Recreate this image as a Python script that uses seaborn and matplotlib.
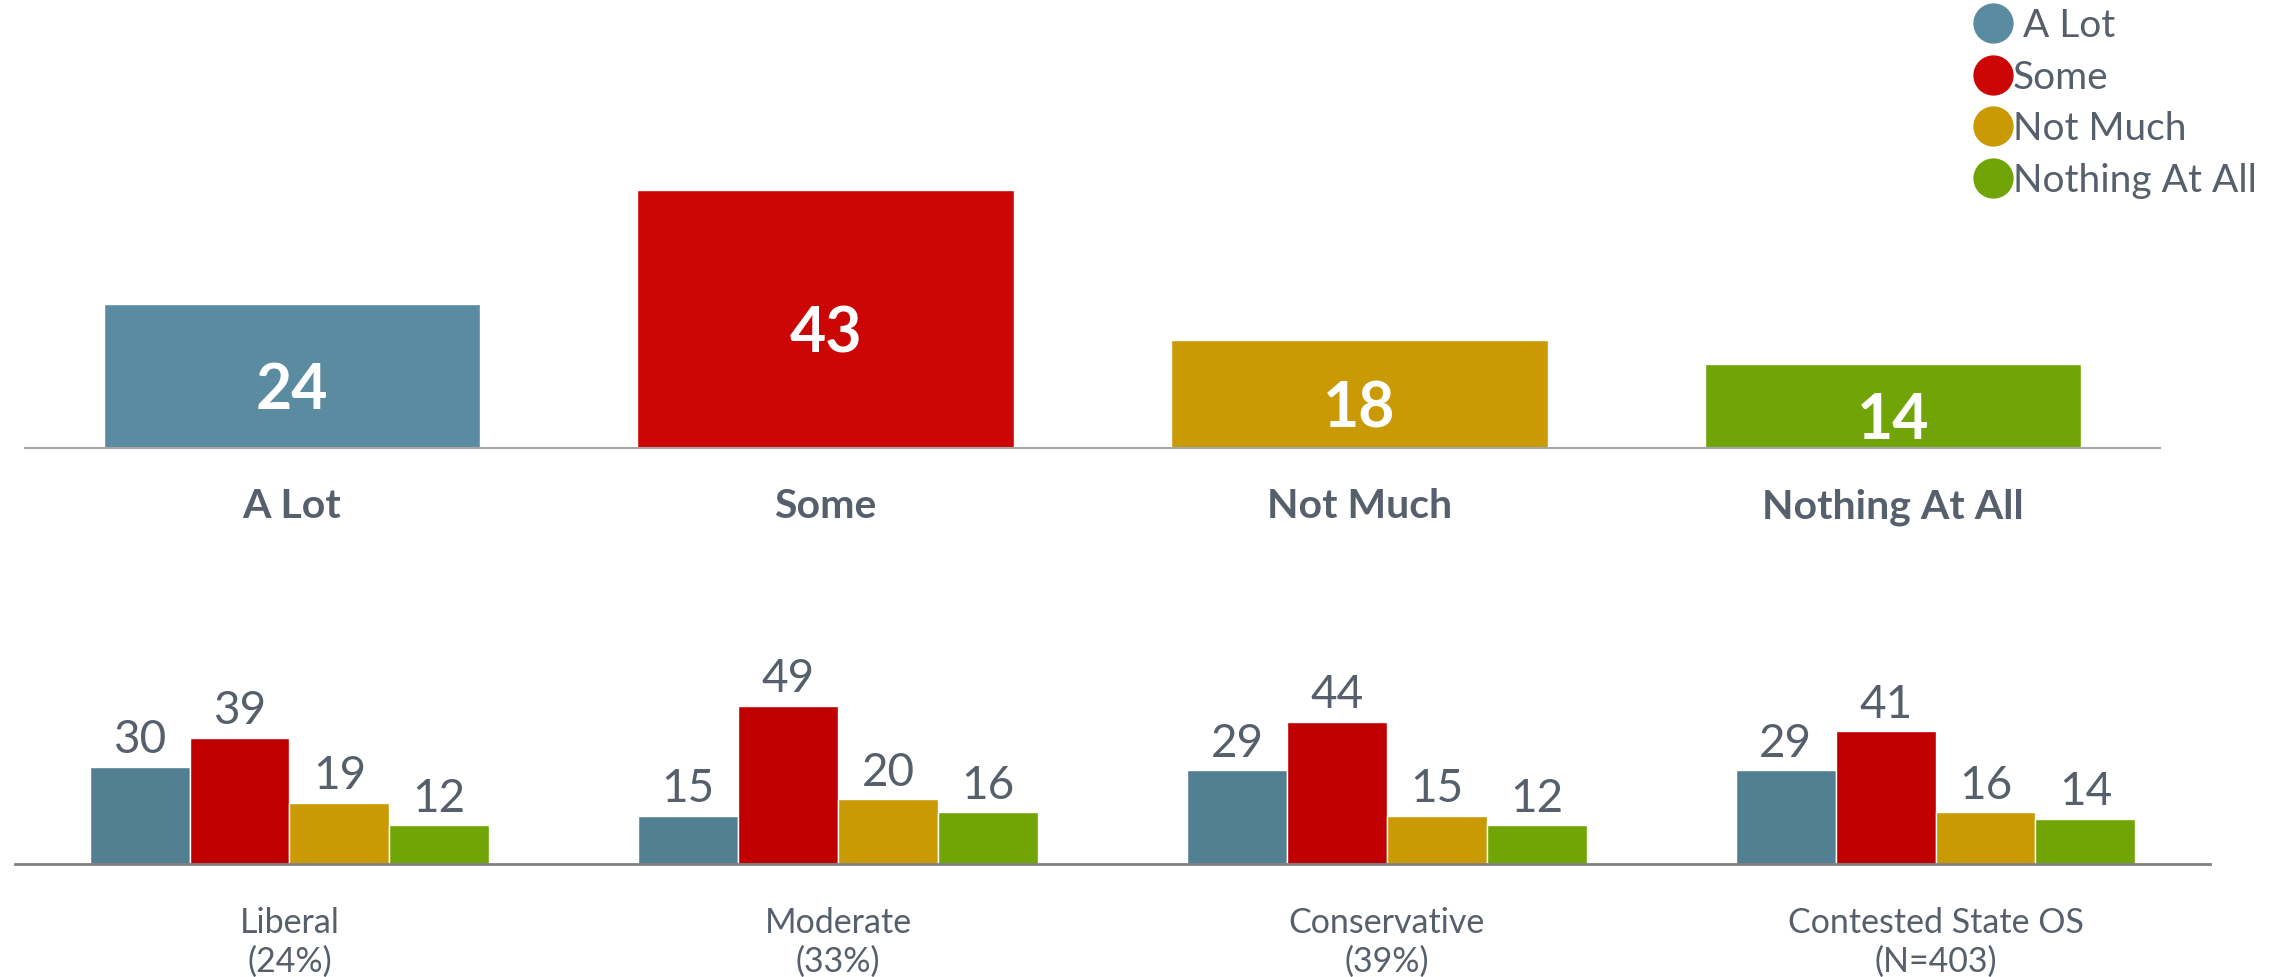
import matplotlib
matplotlib.use("Agg")
import matplotlib.pyplot as plt
from matplotlib.lines import Line2D
import seaborn as sns
import pandas as pd

# ---------------- data ----------------
responses = ["A Lot", "Some", "Not Much", "Nothing At All"]
overall = [24, 43, 18, 14]

groups = ["Liberal\n(24%)", "Moderate\n(33%)", "Conservative\n(39%)", "Contested State OS\n(N=403)"]
a_lot = [30, 15, 29, 29]
some = [39, 49, 44, 41]
not_much = [19, 20, 15, 16]
nothing = [12, 16, 12, 14]

legend_labels = [" A Lot", "Some", "Not Much", "Nothing At All"]

top_colors = ["#5B8BA0", "#CC0605", "#CA9A05", "#70A407"]
bot_colors = ["#527F92", "#C00000", "#CA9A05", "#71A506"]
text_color = "#56606C"

sns.set_theme(style="white")
plt.rcParams["font.family"] = ["Lato", "DejaVu Sans"]

W, H = 2288, 977
fig = plt.figure(figsize=(W / 100, H / 100), dpi=100)

# ---------------- top chart ----------------
ax1 = fig.add_axes([25 / W, 1 - 448 / H, 2135 / W, 300 / H])
df_top = pd.DataFrame({"response": responses, "value": overall})
sns.barplot(data=df_top, x="response", y="value", hue="response",
            palette=top_colors, width=0.705, legend=False, ax=ax1,
            saturation=1, order=responses, hue_order=responses)
ax1.set_xlim(-0.5, 3.5)
ax1.set_ylim(0, 50)
for c in ax1.containers:
    ax1.bar_label(c, label_type="center", color="white", fontsize=45,
                  fontweight="bold", padding=-11)
ax1.set_xlabel("")
ax1.set_ylabel("")
ax1.set_yticks([])
for s in ["top", "right", "left"]:
    ax1.spines[s].set_visible(False)
ax1.spines["bottom"].set_color("#A6A6A6")
ax1.spines["bottom"].set_linewidth(1.5)
ax1.tick_params(axis="x", length=0, pad=29, labelsize=29.5, labelcolor=text_color)
for t in ax1.get_xticklabels():
    t.set_fontweight("bold")

# ---------------- bottom chart ----------------
ax2 = fig.add_axes([15 / W, 1 - 864 / H, 2195 / W, 194 / H])
rows = []
for g, v1, v2, v3, v4 in zip(groups, a_lot, some, not_much, nothing):
    for r, v in zip(responses, [v1, v2, v3, v4]):
        rows.append({"group": g, "response": r, "value": v})
df_bot = pd.DataFrame(rows)
sns.barplot(data=df_bot, x="group", y="value", hue="response",
            palette=bot_colors, width=0.728, gap=0, legend=False, ax=ax2,
            saturation=1, order=groups, hue_order=responses)
ax2.set_xlim(-0.5, 3.5)
ax2.set_ylim(0, 60)
for c in ax2.containers:
    ax2.bar_label(c, color=text_color, fontsize=33, padding=4)
ax2.set_xlabel("")
ax2.set_ylabel("")
ax2.set_yticks([])
for s in ["top", "right", "left"]:
    ax2.spines[s].set_visible(False)
ax2.spines["bottom"].set_color("#808080")
ax2.spines["bottom"].set_linewidth(2)
ax2.tick_params(axis="x", length=0, pad=31, labelsize=24.5, labelcolor=text_color)
for t in ax2.get_xticklabels():
    t.set_linespacing(1.25)

# ---------------- legend ----------------
handles = [Line2D([0], [0], marker="o", linestyle="", markersize=28,
                  markerfacecolor=c, markeredgecolor=c) for c in top_colors]
fig.legend(handles, legend_labels, loc="upper left",
           bbox_to_anchor=(1977 / W, 1 - 8 / H), frameon=False,
           fontsize=28, labelcolor=text_color, handlelength=0.8,
           handletextpad=0.12, labelspacing=0.40, borderpad=0,
           borderaxespad=0)

fig.savefig("out.png", dpi=100)
